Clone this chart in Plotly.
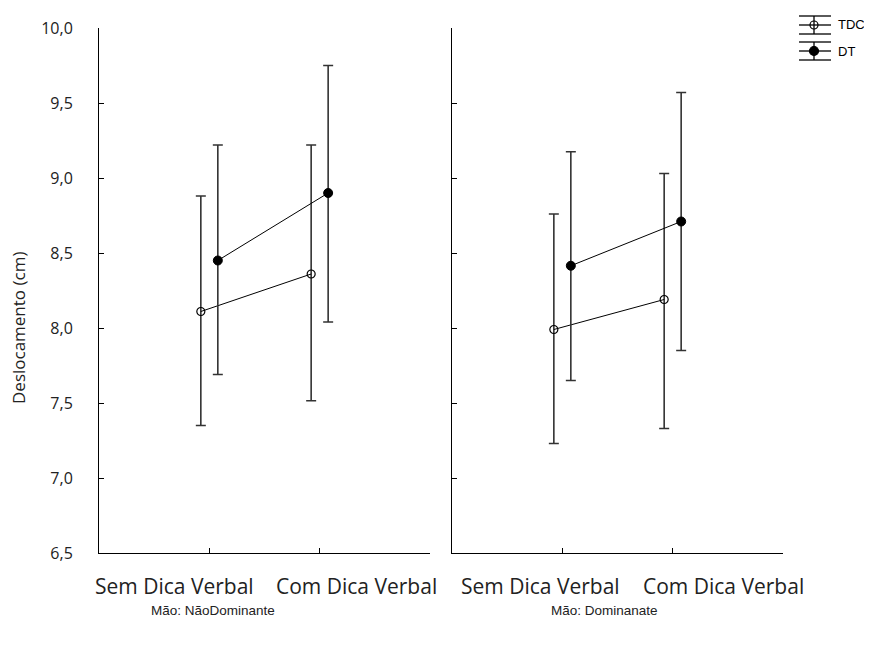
import plotly.graph_objects as go

categories = ["Sem Dica Verbal", "Com Dica Verbal"]
panels = ["Mão: NãoDominante", "Mão: Dominanate"]
groups = ["TDC", "DT"]
y_ticks = [6.5, 7.0, 7.5, 8.0, 8.5, 9.0, 9.5, 10.0]

# Mão: NãoDominante
tdc_mean_nd = [8.11, 8.36]
tdc_upper_nd = [8.88, 9.22]
tdc_lower_nd = [7.35, 7.515]
dt_mean_nd = [8.45, 8.90]
dt_upper_nd = [9.22, 9.75]
dt_lower_nd = [7.69, 8.04]

# Mão: Dominanate
tdc_mean_d = [7.99, 8.19]
tdc_upper_d = [8.76, 9.03]
tdc_lower_d = [7.23, 7.33]
dt_mean_d = [8.415, 8.71]
dt_upper_d = [9.175, 9.57]
dt_lower_d = [7.65, 7.85]

data = [
    {"TDC": (tdc_mean_nd, tdc_upper_nd, tdc_lower_nd), "DT": (dt_mean_nd, dt_upper_nd, dt_lower_nd)},
    {"TDC": (tdc_mean_d, tdc_upper_d, tdc_lower_d), "DT": (dt_mean_d, dt_upper_d, dt_lower_d)},
]

offsets = {"TDC": -0.077, "DT": 0.077}
marker_styles = {
    "TDC": dict(symbol="circle-open", size=8, color="black", line=dict(color="black", width=1.2)),
    "DT": dict(symbol="circle", size=9, color="black", line=dict(color="black", width=1)),
}
BAR_COLOR = "#333333"

fig = go.Figure()
for p, panel_data in enumerate(data):
    xa = "x" if p == 0 else "x2"
    ya = "y" if p == 0 else "y2"
    for g in groups:
        mean, upper, lower = panel_data[g]
        xs = [i + offsets[g] for i in range(len(categories))]
        fig.add_trace(go.Scatter(
            x=xs, y=mean, mode="lines+markers", name=g,
            xaxis=xa, yaxis=ya, showlegend=False,
            line=dict(color="black", width=1),
            marker=marker_styles[g],
            error_y=dict(type="data", symmetric=False,
                         array=[u - m for u, m in zip(upper, mean)],
                         arrayminus=[m - l for m, l in zip(mean, lower)],
                         color=BAR_COLOR, thickness=1.6, width=5),
        ))

tick_font = dict(family="Open Sans", size=16, color="#222222")
cat_font = dict(family="Open Sans", size=21, color="#222222")

xaxis_common = dict(
    range=[-1, 2], tickvals=[-1, 0, 1, 2], showticklabels=False,
    ticks="inside", ticklen=5, tickcolor="black", showline=True, linecolor="black",
    linewidth=1, showgrid=False, zeroline=False, automargin=False,
)
yaxis_common = dict(
    range=[6.5, 10.0], tickvals=y_ticks, tickformat=".1f",
    ticks="inside", ticklen=5, tickcolor="black", showline=True, linecolor="black",
    linewidth=1, showgrid=False, zeroline=False, tickfont=tick_font, automargin=False,
)

ML, MT, PW, PH = 91, 20, 684, 525   # plot area in figure pixels
OFF = 8                             # page body margin
FIG_W, FIG_H = 864, 620


def px(xw):
    return (xw - OFF - ML) / PW


def py(yw):
    return (MT + PH - (yw - OFF)) / PH


fig.update_layout(
    width=FIG_W, height=FIG_H,
    margin=dict(l=ML, r=FIG_W - ML - PW, t=MT, b=FIG_H - MT - PH, autoexpand=False),
    paper_bgcolor="white", plot_bgcolor="white",
    separators=",.",
    xaxis=dict(domain=[0, 0.4839], anchor="y", **xaxis_common),
    xaxis2=dict(domain=[0.5161, 1], anchor="y2", **xaxis_common),
    yaxis=dict(domain=[0, 1], anchor="x", ticklabelstandoff=22, **yaxis_common),
    yaxis2=dict(domain=[0, 1], anchor="x2", showticklabels=False, **yaxis_common),
    showlegend=False,
)

# legend (drawn like the reference: whisker symbol + marker + label)
legend_rows = [("TDC", 25), ("DT", 51)]
for g, yc in legend_rows:
    line = dict(color="black", width=1.3)
    for dy in (-9, 0, 9):
        fig.add_shape(type="line", xref="paper", yref="paper",
                      x0=px(799), x1=px(831), y0=py(yc + dy), y1=py(yc + dy), line=line)
    fig.add_shape(type="line", xref="paper", yref="paper",
                  x0=px(814), x1=px(814), y0=py(yc - 9), y1=py(yc + 9), line=line)
    r = 4 if g == "TDC" else 4.5
    fig.add_shape(type="circle", xref="paper", yref="paper",
                  x0=px(814 - r), x1=px(814 + r), y0=py(yc - r), y1=py(yc + r),
                  line=dict(color="black", width=1.2),
                  fillcolor="rgba(0,0,0,0)" if g == "TDC" else "black")
    fig.add_annotation(text=g, xref="paper", yref="paper", x=px(836), y=py(yc),
                       showarrow=False, xanchor="left", yanchor="middle",
                       font=dict(family="Liberation Sans", size=13, color="black"))

# y-axis title
fig.add_annotation(text="Deslocamento (cm)", xref="paper", yref="paper", x=px(18), y=py(328),
                   textangle=-90, showarrow=False,
                   font=dict(family="Open Sans", size=17, color="#222222"),
                   xanchor="center", yanchor="middle")

# category labels below each panel
cat_pos = [
    ("x domain", [0.2296, 0.779]),
    ("x2 domain", [0.266, 0.819]),
]
for xref, positions in cat_pos:
    for cat, xp in zip(categories, positions):
        fig.add_annotation(text=cat, xref=xref, yref="paper", x=xp, y=py(586),
                           showarrow=False, font=cat_font, xanchor="center", yanchor="middle")

# panel titles
for title, xc in zip(panels, (213, 604)):
    fig.add_annotation(text=title, xref="paper", yref="paper", x=px(xc), y=py(610),
                       showarrow=False, font=dict(family="Liberation Sans", size=13.5, color="#222222"),
                       xanchor="center", yanchor="middle")

fig.write_html("out.html")
